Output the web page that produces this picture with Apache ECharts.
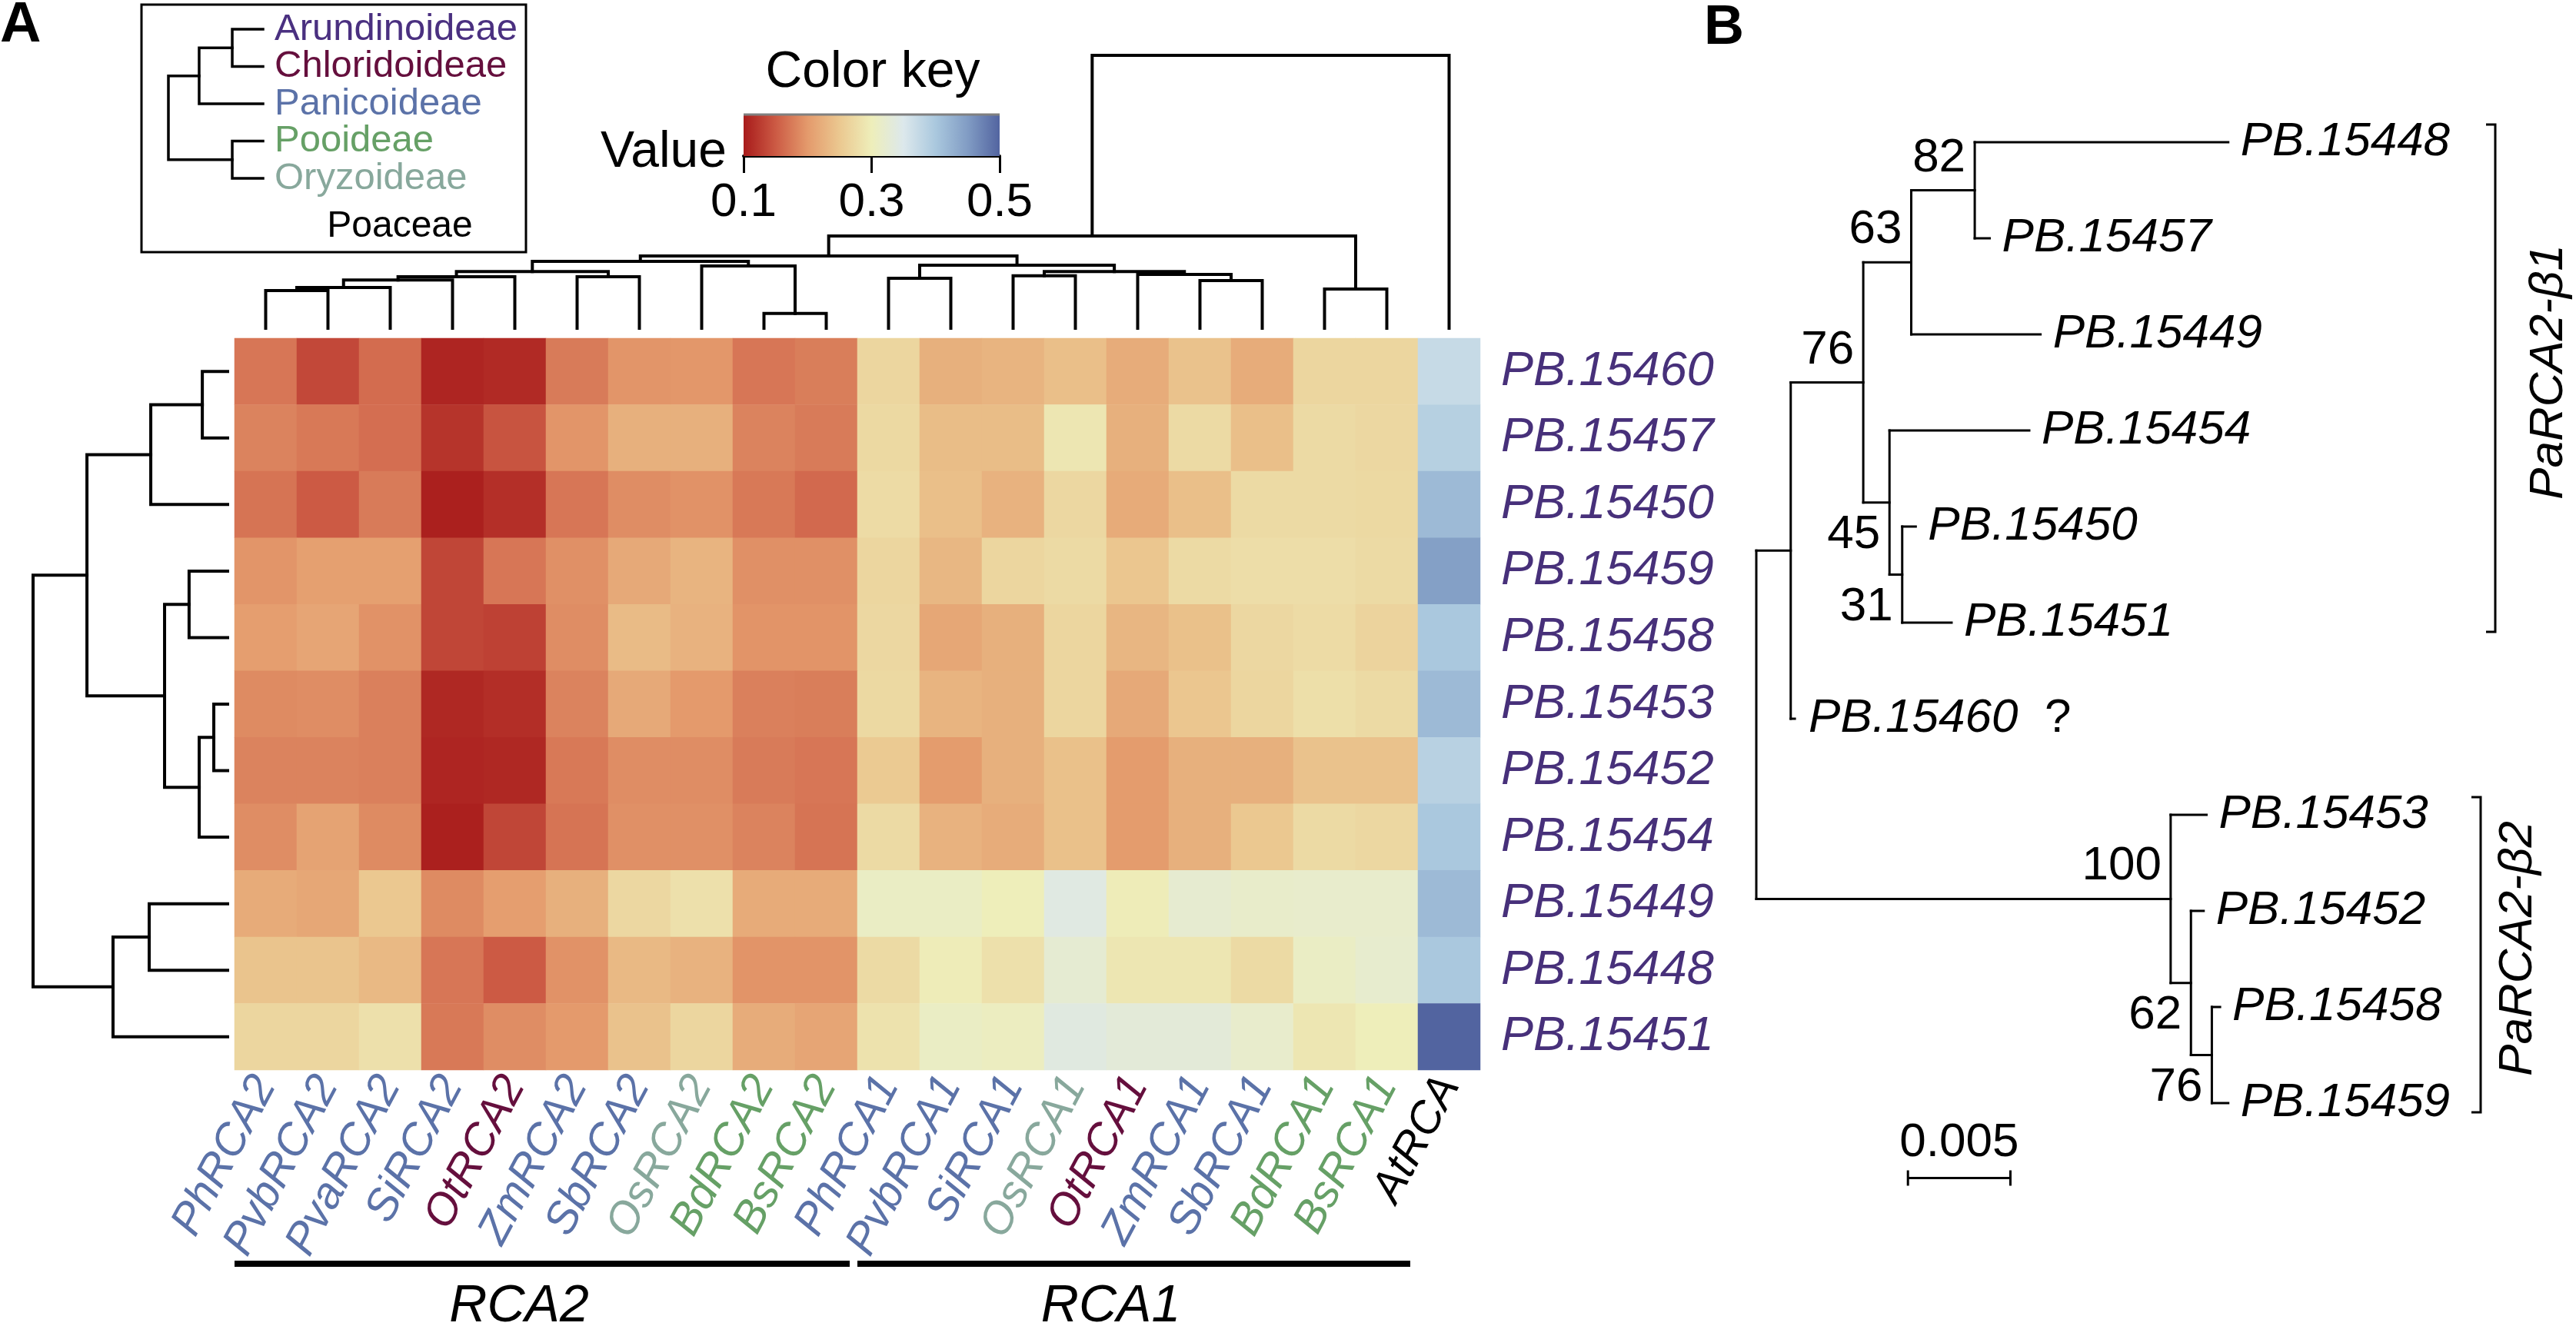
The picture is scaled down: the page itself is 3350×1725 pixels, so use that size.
<!DOCTYPE html>
<html><head><meta charset="utf-8">
<script src="https://cdn.jsdelivr.net/npm/echarts@6/dist/echarts.min.js"></script>
<style>html,body{margin:0;padding:0;background:#fff}#c{width:3350px;height:1725px}</style>
</head><body><div id="c"></div>
<script>
// ---------------- data ----------------
const colLabels = ['PhRCA2','PvbRCA2','PvaRCA2','SiRCA2','OtRCA2','ZmRCA2','SbRCA2','OsRCA2','BdRCA2','BsRCA2',
                   'PhRCA1','PvbRCA1','SiRCA1','OsRCA1','OtRCA1','ZmRCA1','SbRCA1','BdRCA1','BsRCA1','AtRCA'];
const colGroups = ['Panicoideae','Panicoideae','Panicoideae','Panicoideae','Chloridoideae','Panicoideae','Panicoideae','Oryzoideae','Pooideae','Pooideae',
                   'Panicoideae','Panicoideae','Panicoideae','Oryzoideae','Chloridoideae','Panicoideae','Panicoideae','Pooideae','Pooideae','Other'];
const rowLabels = ['PB.15460','PB.15457','PB.15450','PB.15459','PB.15458','PB.15453','PB.15452','PB.15454','PB.15449','PB.15448','PB.15451'];
const heatValues = [
  [0.172,0.136,0.164,0.108,0.112,0.176,0.196,0.198,0.172,0.178,0.268,0.224,0.228,0.240,0.220,0.244,0.220,0.268,0.268,0.372],
  [0.182,0.174,0.166,0.120,0.145,0.196,0.224,0.224,0.182,0.176,0.272,0.238,0.238,0.290,0.224,0.274,0.240,0.274,0.270,0.388],
  [0.170,0.150,0.176,0.104,0.116,0.172,0.190,0.194,0.174,0.162,0.275,0.240,0.226,0.270,0.218,0.240,0.274,0.274,0.272,0.416],
  [0.196,0.206,0.206,0.134,0.172,0.192,0.216,0.228,0.192,0.192,0.268,0.232,0.268,0.274,0.248,0.274,0.278,0.278,0.274,0.446],
  [0.204,0.212,0.194,0.134,0.130,0.190,0.236,0.226,0.195,0.195,0.270,0.214,0.224,0.268,0.230,0.242,0.270,0.275,0.265,0.400],
  [0.188,0.190,0.180,0.110,0.115,0.182,0.216,0.200,0.180,0.178,0.272,0.228,0.224,0.268,0.216,0.248,0.268,0.280,0.274,0.416],
  [0.182,0.182,0.180,0.108,0.110,0.174,0.190,0.190,0.176,0.172,0.252,0.202,0.224,0.242,0.202,0.224,0.224,0.244,0.244,0.386],
  [0.190,0.210,0.188,0.104,0.134,0.170,0.192,0.192,0.182,0.170,0.274,0.226,0.220,0.242,0.202,0.224,0.250,0.274,0.270,0.400],
  [0.218,0.214,0.250,0.188,0.204,0.224,0.270,0.282,0.218,0.218,0.310,0.310,0.300,0.340,0.298,0.322,0.316,0.318,0.318,0.416],
  [0.246,0.246,0.234,0.172,0.150,0.194,0.234,0.226,0.195,0.195,0.274,0.298,0.282,0.324,0.290,0.290,0.274,0.310,0.320,0.400],
  [0.268,0.268,0.282,0.174,0.190,0.200,0.244,0.268,0.220,0.212,0.284,0.310,0.306,0.338,0.330,0.330,0.318,0.290,0.300,0.500]
];
// hclust-style merges: negative = leaf (1-based), positive = earlier merge (1-based); third = height
const colMerges = [
  [-1,-2,0.138],[1,-3,0.149],[2,-4,0.177],[3,-5,0.189],[-6,-7,0.189],[4,5,0.208],
  [-9,-10,0.054],[-8,7,0.228],[6,8,0.245],[-11,-12,0.183],[-13,-14,0.192],[-16,-17,0.175],
  [-15,12,0.197],[11,13,0.208],[10,14,0.231],[9,15,0.265],[-18,-19,0.144],[16,17,0.338],[18,-20,1.0]
];
const rowMerges = [
  [-1,-2,0.130],[1,-3,0.395],[-4,-5,0.198],[-6,-7,0.071],[4,-8,0.146],[3,5,0.324],
  [2,6,0.723],[-9,-10,0.403],[8,-11,0.589],[7,9,1.0]
];
const legendGroups = ['Arundinoideae','Chloridoideae','Panicoideae','Pooideae','Oryzoideae'];
const legendMerges = [[-1,-2,0.325],[1,-3,0.675],[-4,-5,0.325],[2,3,1.0]];
const legendFamily = 'Poaceae';
const keyTicks = [0.1, 0.3, 0.5];
const keyMin = 0.1, keyMax = 0.5;
const colorStops = ['#a81b1b','#cc5a44','#e49a6c','#ebc890','#eeeeba','#dce8ec','#aac8de','#819cc4','#5264a0'];
const geneGroups = ['RCA2','RCA1'];
const geneGroupFirst = [0, 10];
const geneGroupLast = [9, 18];
const newickB = '((((((PB.15448:0.01237,PB.15457:0.00073)82:0.0031,PB.15449:0.00631)63:0.00234,(PB.15454:0.00682,(PB.15450:0.00066,PB.15451:0.00241)31:0.00062)45:0.00128)76:0.00354,PB.15460:0.0002):0.00168,(PB.15453:0.00175,(PB.15452:0.00062,(PB.15458:0.0004,PB.15459:0.0008)76:0.00102)62:0.00099)100:0.02022);';
const supportSide = ['above','above','above','below','below','above','below','below'];
const queryTips = ['PB.15460'];
const cladeNames = ['PaRCA2-\u03B21','PaRCA2-\u03B22'];
const cladeFirst = ['PB.15448','PB.15453'];
const cladeLast = ['PB.15451','PB.15459'];
const scaleBarLength = 0.005;

// ---------------- styles ----------------
const FONT = "'Liberation Sans', Arial, Helvetica, sans-serif";
const groupColors = {
  Arundinoideae:'#4a3080', Chloridoideae:'#650f3d', Panicoideae:'#5b72a8',
  Pooideae:'#66a066', Oryzoideae:'#88a89c', Other:'#000000'
};
const rowLabelColor = '#47307a';

// ---------------- helpers ----------------
function dendroLinks(merges){
  const pos = [], hgt = [], out = [];
  const get = k => k < 0 ? [-k - 1, 0] : [pos[k - 1], hgt[k - 1]];
  merges.forEach((m, i) => {
    const [pa, ha] = get(m[0]), [pb, hb] = get(m[1]);
    pos[i] = (pa + pb) / 2; hgt[i] = m[2];
    out.push([pa, ha, pb, hb, m[2]]);
  });
  return out;
}
function dendroRender(swap, lw){
  return function(params, api){
    const pa = api.value(0), ha = api.value(1), pb = api.value(2), hb = api.value(3), h = api.value(4);
    const P = (p, hh) => swap ? api.coord([hh, p]) : api.coord([p, hh]);
    return {type:'polyline', shape:{points:[P(pa,ha),P(pa,h),P(pb,h),P(pb,hb)]},
            style:{stroke:'#000', lineWidth:lw, fill:null, lineJoin:'miter', lineCap:'square'}};
  };
}
function parseNewick(s){
  let i = 0; const nodes = [];
  function node(){
    const n = {children:[]}; nodes.push(n);
    if (s[i] === '('){
      i++; n.children.push(node());
      while (s[i] === ','){ i++; n.children.push(node()); }
      i++;
    }
    let lab = ''; while (i < s.length && !':,();'.includes(s[i])) lab += s[i++];
    n.len = 0;
    if (s[i] === ':'){ i++; let num = ''; while (i < s.length && !',();'.includes(s[i])) num += s[i++]; n.len = parseFloat(num); }
    if (n.children.length) n.support = lab || null; else n.name = lab;
    return n;
  }
  const root = node();
  return {root, nodes};
}
const tree = parseNewick(newickB);
const tips = [], treeSegs = [], supports = [];
(function layout(n, x, parent){
  n.x = x; n.parent = parent;
  if (!n.children.length){ n.y = tips.length; tips.push(n); return; }
  n.children.forEach(c => layout(c, x + c.len, n));
  n.y = (n.children[0].y + n.children[n.children.length - 1].y) / 2;
})(tree.root, 0, null);
tree.nodes.forEach(n => {
  if (!n.children.length) return;
  const f = n.children[0], l = n.children[n.children.length - 1];
  treeSegs.push([n.x, f.y, n.x, l.y]);
  n.children.forEach(c => treeSegs.push([n.x, c.y, c.x, c.y]));
});
tree.nodes.filter(n => n.support).forEach((n, k) => supports.push({x:n.x, y:n.y, text:n.support, side:supportSide[k]}));
const tipIndex = name => tips.findIndex(t => t.name === name);

const heatData = [];
heatValues.forEach((row, r) => row.forEach((v, c) => heatData.push([c, r, v])));
const colLinks = dendroLinks(colMerges);
const rowLinks = dendroLinks(rowMerges);
const legLinks = dendroLinks(legendMerges);

function txt(x, y, text, o){
  o = o || {};
  return Object.assign({type:'text', x, y, silent:true, style:{
    text, fill:o.fill || '#000', fontSize:o.size || 62, fontFamily:FONT,
    fontStyle:o.style || 'normal', fontWeight:o.weight || 'normal',
    textAlign:o.align || 'left', align:o.align || 'left',
    textVerticalAlign:o.valign || 'middle', verticalAlign:o.valign || 'middle', rich:o.rich
  }}, o.rotation != null ? {rotation:o.rotation} : {});
}
const hidden = {show:false};
function hAxis(grid, min, max, extra){ return Object.assign({type:'value', gridIndex:grid, min, max, show:false, splitLine:hidden}, extra || {}); }

// ---------------- option ----------------
const option = {
  animation:false,
  backgroundColor:'#fff',
  textStyle:{fontFamily:FONT},
  grid:[
    {left:305, top:440, width:1620, height:952},     // 0 heatmap
    {left:305, top:72, width:1620, height:355},      // 1 column dendrogram
    {left:43, top:440, width:253, height:952},       // 2 row dendrogram
    {left:219, top:13.75, width:123, height:242.5},  // 3 legend tree
    {left:967, top:149, width:333, height:54},       // 4 colour key
    {left:2284, top:185, width:1096, height:1250},   // 5 tree B
    {left:305, top:1640, width:1620, height:8}       // 6 gene groups
  ],
  xAxis:[
    {type:'category', gridIndex:0, data:colLabels, axisLine:hidden, axisTick:hidden, splitLine:hidden,
     axisLabel:{interval:0, rotate:62, margin:12, fontSize:58, fontStyle:'italic', fontFamily:FONT,
       color:(v) => groupColors[colGroups[colLabels.indexOf(v)]]}},
    hAxis(1, -0.5, colLabels.length - 0.5),
    hAxis(2, 0, 1, {inverse:true}),
    hAxis(3, 0, 1, {inverse:true}),
    {type:'value', gridIndex:4, min:keyMin, max:keyMax, position:'bottom', splitLine:hidden,
     axisLine:{show:true, lineStyle:{color:'#000', width:4}},
     axisTick:{show:true, customValues:keyTicks, length:22, lineStyle:{color:'#000', width:3}},
     axisLabel:{customValues:keyTicks, fontSize:62, margin:30, color:'#000', fontFamily:FONT, formatter:v => v.toFixed(1)}},
    hAxis(5, 0, 0.04),
    hAxis(6, -0.5, colLabels.length - 0.5)
  ],
  yAxis:[
    {type:'category', gridIndex:0, data:rowLabels, inverse:true, position:'right', axisLine:hidden, axisTick:hidden, splitLine:hidden,
     axisLabel:{margin:27, fontSize:63, fontStyle:'italic', color:rowLabelColor, fontFamily:FONT}},
    hAxis(1, 0, 1),
    hAxis(2, -0.5, rowLabels.length - 0.5, {inverse:true}),
    hAxis(3, -0.5, legendGroups.length - 0.5, {inverse:true}),
    hAxis(4, 0, 1),
    hAxis(5, 0, tips.length - 1, {inverse:true}),
    hAxis(6, 0, 1)
  ],
  visualMap:{type:'continuous', min:keyMin, max:keyMax, seriesIndex:0, show:false, inRange:{color:colorStops}},
  series:[
    {type:'heatmap', xAxisIndex:0, yAxisIndex:0, data:heatData, silent:true, itemStyle:{borderWidth:0}, emphasis:{disabled:true}},
    {type:'custom', xAxisIndex:1, yAxisIndex:1, data:colLinks, silent:true, renderItem:dendroRender(false, 4)},
    {type:'custom', xAxisIndex:2, yAxisIndex:2, data:rowLinks, silent:true, renderItem:dendroRender(true, 4)},
    {type:'custom', xAxisIndex:3, yAxisIndex:3, data:legLinks, silent:true, renderItem:dendroRender(true, 3.5)},
    {type:'custom', xAxisIndex:3, yAxisIndex:3, silent:true, data:legendGroups.map((g, i) => [0, i]),
     renderItem:(params, api) => { const p = api.coord([0, api.value(1)]); const g = legendGroups[params.dataIndex];
       return txt(p[0] + 15, p[1], g, {size:49, fill:groupColors[g]}); }},
    {type:'custom', xAxisIndex:4, yAxisIndex:4, silent:true, data:[[keyMin, keyMax]],
     renderItem:(params, api) => {
       const a = api.coord([api.value(0), 1]), b = api.coord([api.value(1), 0]);
       const stops = colorStops.map((c, i) => ({offset:i / (colorStops.length - 1), color:c}));
       return {type:'group', children:[
         {type:'rect', shape:{x:a[0], y:a[1], width:b[0] - a[0], height:b[1] - a[1]},
          style:{fill:new echarts.graphic.LinearGradient(0, 0, 1, 0, stops)}},
         {type:'line', shape:{x1:a[0], y1:a[1], x2:b[0], y2:a[1]}, style:{stroke:'#808080', lineWidth:3}}
       ]};
     }},
    {type:'custom', xAxisIndex:5, yAxisIndex:5, data:treeSegs, silent:true,
     renderItem:(params, api) => { const a = api.coord([api.value(0), api.value(1)]), b = api.coord([api.value(2), api.value(3)]);
       return {type:'line', shape:{x1:a[0], y1:a[1], x2:b[0], y2:b[1]}, style:{stroke:'#000', lineWidth:3, lineCap:'square'}}; }},
    {type:'custom', xAxisIndex:5, yAxisIndex:5, silent:true, data:tips.map(t => [t.x, t.y]),
     renderItem:(params, api) => { const p = api.coord([api.value(0), api.value(1)]); const name = tips[params.dataIndex].name;
       if (queryTips.includes(name)) {
         return txt(p[0] + 18, p[1], '{a|' + name + '}{b|  ?}', {rich:{
           a:{fontSize:62, fontStyle:'italic', fontFamily:FONT, fill:'#000'},
           b:{fontSize:62, fontFamily:FONT, fill:'#000'}}});
       }
       return txt(p[0] + 16, p[1], name, {style:'italic'}); }},
    {type:'custom', xAxisIndex:5, yAxisIndex:5, silent:true, data:supports.map(s => [s.x, s.y]),
     renderItem:(params, api) => { const p = api.coord([api.value(0), api.value(1)]); const s = supports[params.dataIndex];
       return txt(p[0] - 12, p[1] + (s.side === 'above' ? -42 : 42), s.text, {align:'right'}); }},
    {type:'custom', xAxisIndex:5, yAxisIndex:5, silent:true, data:[[0.0074, 10.78]],
     renderItem:(params, api) => {
       const a = api.coord([api.value(0), api.value(1)]), b = api.coord([api.value(0) + scaleBarLength, api.value(1)]);
       const st = {stroke:'#000', lineWidth:3};
       return {type:'group', children:[
         {type:'line', shape:{x1:a[0], y1:a[1], x2:b[0], y2:b[1]}, style:st},
         {type:'line', shape:{x1:a[0], y1:a[1] - 10, x2:a[0], y2:a[1] + 10}, style:st},
         {type:'line', shape:{x1:b[0], y1:b[1] - 10, x2:b[0], y2:b[1] + 10}, style:st},
         txt((a[0] + b[0]) / 2, a[1] - 46, String(scaleBarLength), {align:'center'})
       ]};
     }},
    {type:'custom', xAxisIndex:5, yAxisIndex:5, silent:true,
     data:cladeNames.map((n, i) => [tipIndex(cladeFirst[i]), tipIndex(cladeLast[i])]),
     renderItem:(params, api) => {
       const i = params.dataIndex;
       const bx = [3245, 3226][i], lx = [3315, 3275][i];
       const y1 = api.coord([0, api.value(0)])[1] - 23, y2 = api.coord([0, api.value(1)])[1] + 12;
       const st = {stroke:'#000', lineWidth:3, fill:null};
       return {type:'group', children:[
         {type:'polyline', shape:{points:[[bx - 12, y1], [bx, y1], [bx, y2], [bx - 12, y2]]}, style:st},
         txt(lx, (y1 + y2) / 2 - 8, cladeNames[i], {style:'italic', align:'center', rotation:Math.PI / 2})
       ]};
     }},
    {type:'custom', xAxisIndex:6, yAxisIndex:6, silent:true,
     data:geneGroups.map((g, i) => [geneGroupFirst[i], geneGroupLast[i]]),
     renderItem:(params, api) => {
       const a = api.coord([api.value(0) - 0.5, 1]), b = api.coord([api.value(1) + 0.5, 0]);
       const x2 = b[0] - 10;
       return {type:'group', children:[
         {type:'rect', shape:{x:a[0], y:a[1], width:x2 - a[0], height:b[1] - a[1]}, style:{fill:'#000'}},
         txt((a[0] + x2) / 2 - 30, b[1] + 52, geneGroups[params.dataIndex], {size:68, style:'italic', align:'center'})
       ]};
     }}
  ],
  graphic:[
    txt(0, 34, 'A', {size:74, weight:'bold'}),
    txt(2216, 37, 'B', {size:72, weight:'bold'}),
    {type:'rect', silent:true, shape:{x:184, y:6, width:500, height:322}, style:{fill:null, stroke:'#000', lineWidth:3}},
    txt(520, 295, legendFamily, {size:48, align:'center'}),
    txt(1135, 95, 'Color key', {size:66, align:'center'}),
    txt(945, 199, 'Value', {size:66, align:'right'})
  ]
};
const chart = echarts.init(document.getElementById('c'), null, {width:3350, height:1725});
chart.setOption(option);
</script>
</body></html>
